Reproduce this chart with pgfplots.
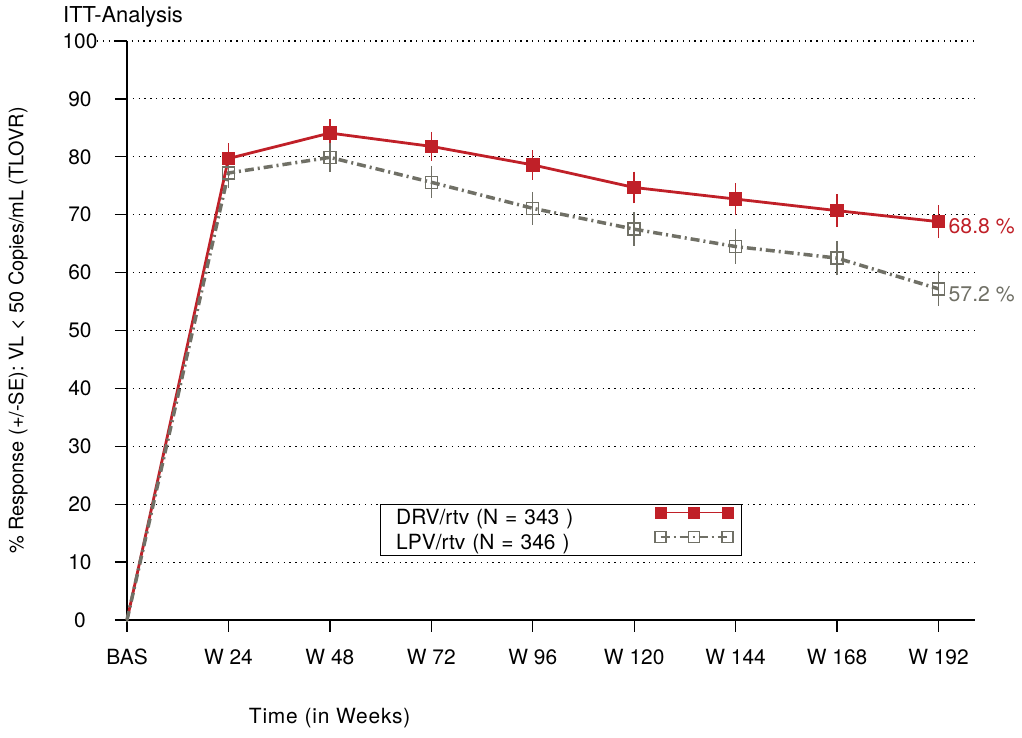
\documentclass[border=0pt]{standalone}
\usepackage{pgfplots}
\pgfplotsset{compat=1.18}
\usepackage{fontspec}
\setmainfont{TeX Gyre Heros}
\definecolor{drv}{RGB}{192,32,40}
\definecolor{lpv}{RGB}{112,112,102}

\pgfplotstableread{
x y e
0 0 0
1 79.7 2.3
2 84.1 2.0
3 81.8 2.15
4 78.6 2.2
5 74.7 2.4
6 72.7 2.4
7 70.7 2.5
8 68.8 2.5
}\drvdata
\pgfplotstableread{
x y e
0 0 0
1 77.2 2.3
2 79.9 2.2
3 75.6 2.4
4 71.1 2.5
5 67.5 2.55
6 64.5 2.65
7 62.5 2.65
8 57.2 2.65
}\lpvdata

\begin{document}
\fontsize{21}{25}\selectfont
\begin{tikzpicture}
\useasboundingbox (-127bp,-118bp) rectangle (895bp,620bp);
\begin{axis}[
  scale only axis, width=848bp, height=579bp,
  xmin=0, xmax=8.36, ymin=0, ymax=100,
  axis x line*=bottom, axis y line*=left,
  axis line style={line width=1.3bp, -},
  tick align=outside, major tick length=12bp,
  tick style={line width=1.3bp, black},
  xtick={0,...,8},
  xticklabels={BAS,W 24,W 48,W 72,W 96,W 120,W 144,W 168,W 192},
  ytick={0,10,...,100},
  /pgf/number format/assume math mode=true,
  ymajorgrids,
  major grid style={black, line width=1.2bp, dash pattern=on 1.4bp off 4.4bp, shorten <=-30bp},
  xticklabel style={anchor=center, yshift=-25bp},
  yticklabel style={anchor=center, xshift=-35bp},
  xlabel={\addfontfeature{LetterSpace=4}Time (in Weeks)},
  xlabel style={at={(axis description cs:0.239,-0.169)}, anchor=center},
  ylabel={\% Response (+/-SE): VL < 50 Copies/mL (TLOVR)},
  ylabel style={at={(axis description cs:-0.1285,0.5)}, anchor=center,
    font=\fontsize{20}{24}\selectfont},
  clip=false,
  legend plot pos=right,
  legend cell align=left,
  legend style={at={(axis description cs:0.298,0.2003)}, anchor=north west,
    draw=black, line width=1bp, inner xsep=8bp, inner ysep=2.5bp,
    row sep=3bp, column sep=10bp,
    nodes={inner sep=0pt, text width=257bp, text height=14bp, text depth=4bp,
      font=\fontsize{21}{23}\selectfont, yshift=-7bp}},
  legend image code/.code={
    \draw[#1, line width=1.5bp, mark indices={1,2,3}, mark size=5.5bp]
      plot coordinates {(0bp,0bp)(33.5bp,0bp)(67bp,0bp)};},
]
\addplot[drv, line width=2.8bp, mark=square*, mark size=6.3bp,
  mark options={solid, line width=1bp, fill=drv},
  mark indices={2,3,4,5,6,7,8,9},
  error bars/.cd, y dir=both, y explicit,
  error bar style={line width=1.4bp, solid},
  error mark options={line width=1.4bp, mark size=2bp, solid}]
  table[x=x, y=y, y error=e] {\drvdata};
\addlegendentry{\hspace*{8bp}DRV/rtv (N = 343 )}
\addplot[lpv, line width=3.5bp, dash pattern=on 9bp off 4bp on 2bp off 4bp,
  mark=square, mark size=6bp,
  mark options={solid, line width=1.5bp},
  mark indices={2,3,4,5,6,7,8,9},
  error bars/.cd, y dir=both, y explicit,
  error bar style={line width=1.4bp, solid},
  error mark options={line width=1.4bp, mark size=2bp, solid}]
  table[x=x, y=y, y error=e] {\lpvdata};
\addlegendentry{\hspace*{8bp}LPV/rtv (N = 346 )}
\node[anchor=west, inner sep=0pt, text=drv, xshift=10bp, yshift=-5bp,
  font=\fontsize{21.3}{24}\selectfont] at (axis cs:8,68.8) {68.8 \%};
\node[anchor=west, inner sep=0pt, text=lpv, xshift=10bp, yshift=-5bp,
  font=\fontsize{21.3}{24}\selectfont] at (axis cs:8,57.2) {57.2 \%};
\node[anchor=west, inner sep=0pt, font=\fontsize{22}{26}\selectfont]
  at (axis description cs:-0.0755,1.0415) {ITT-Analysis};
\end{axis}
\end{tikzpicture}
\end{document}
